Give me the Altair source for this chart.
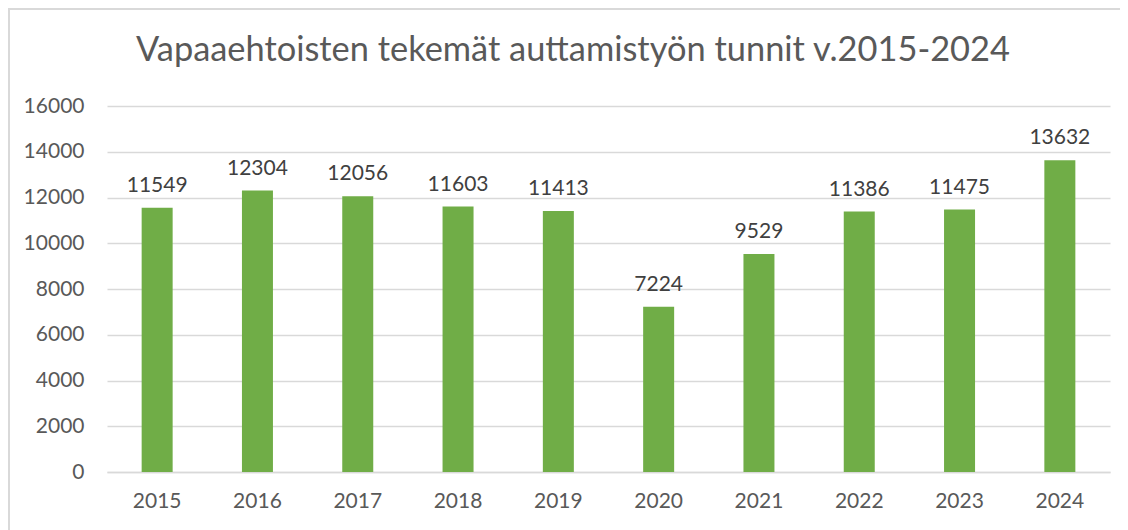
import altair as alt
import pandas as pd

years = ["2015", "2016", "2017", "2018", "2019", "2020", "2021", "2022", "2023", "2024"]
hours = [11549, 12304, 12056, 11603, 11413, 7224, 9529, 11386, 11475, 13632]
title_text = "Vapaaehtoisten tekemät auttamistyön tunnit v.2015-2024"

df = pd.DataFrame({"year": years, "hours": hours})

FONT = "Lato"
W, H = 1003, 366

base = alt.Chart(df)

x_enc = alt.X("year:N", sort=years, title=None,
              scale=alt.Scale(paddingInner=0.69, paddingOuter=0.345),
              axis=alt.Axis(labelAngle=0, ticks=False, domain=True, domainColor="#d9d9d9",
                            domainWidth=1.5, labelPadding=18, labelFontSize=21,
                            labelColor="#595959", labelFont=FONT, grid=False))
y_enc = alt.Y("hours:Q", title=None,
              scale=alt.Scale(domain=[0, 16000]),
              axis=alt.Axis(values=list(range(0, 16001, 2000)), format="d", ticks=False,
                            domain=False, gridColor="#d9d9d9", gridWidth=1.3, labelPadding=23,
                            labelFontSize=21, labelColor="#595959", labelFont=FONT))

bars = base.mark_bar(color="#70ad47", size=31).encode(x=x_enc, y=y_enc)

labels = base.mark_text(baseline="bottom", dy=-12, fontSize=21, font=FONT,
                        color="#404040").encode(
    x=alt.X("year:N", sort=years), y=alt.Y("hours:Q"), text=alt.Text("hours:Q", format="d"))

one = pd.DataFrame({"t": [title_text]})

frame = alt.Chart(one).mark_rect(
    fill=None, stroke="#d9d9d9", strokeWidth=2).encode(
    x=alt.value(-98), x2=alt.value(W + 60), y=alt.value(-97), y2=alt.value(H + 80))

title = alt.Chart(one).mark_text(
    font=FONT, fontSize=34.4, color="#595959", align="center", baseline="middle").encode(
    x=alt.value(466), y=alt.value(-55), text="t:N")

chart = alt.layer(frame, bars, labels, title).properties(
    width=W, height=H,
    background="white",
    padding={"left": 99, "top": 98, "right": 10, "bottom": 60},
    autosize=alt.AutoSizeParams(type="none"),
).configure_view(stroke=None, strokeWidth=0)

chart.save("out.html", embed_options={"renderer": "svg", "actions": False})
